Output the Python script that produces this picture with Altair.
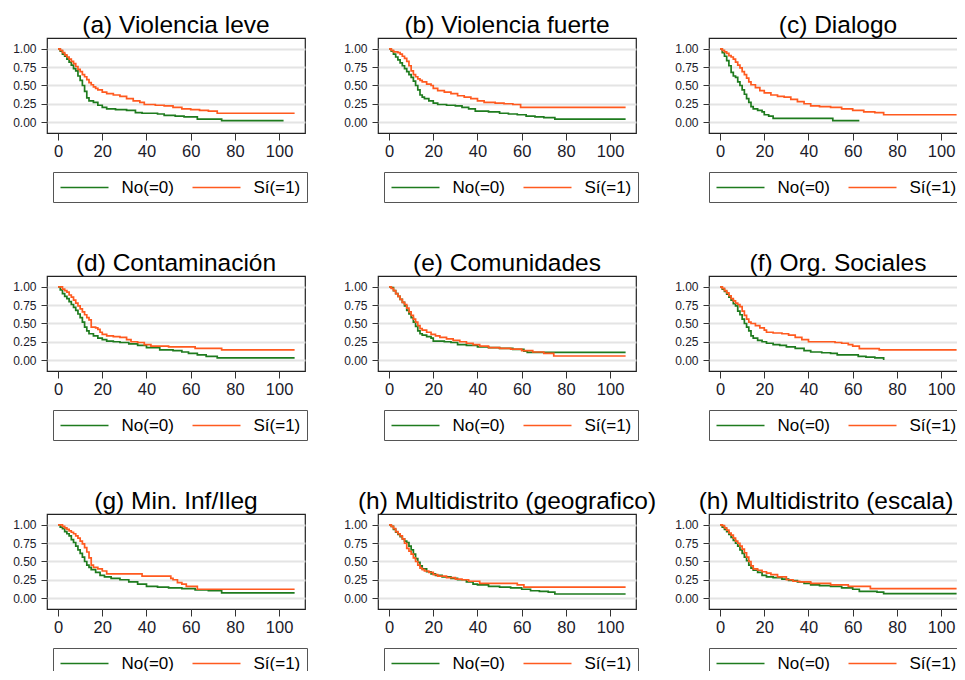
import altair as alt
import pandas as pd

GROUPS = ["No(=0)", "Sí(=1)"]
COLORS = ["#1e7b1e", "#ff5a1f"]

TITLES = [
    "(a) Violencia leve", "(b) Violencia fuerte", "(c) Dialogo",
    "(d) Contaminación", "(e) Comunidades", "(f) Org. Sociales",
    "(g) Min. Inf/Ileg", "(h) Multidistrito (geografico)", "(h) Multidistrito (escala)",
]

a_no_t = [0, 1, 2, 3, 4, 5, 6, 7, 8, 9, 10, 11, 12, 13, 14, 16, 18, 20, 22, 26, 31, 35, 38, 45, 48, 53, 57, 63, 74, 102]
a_no_s = [1, .97, .93, .90, .86, .82, .78, .73, .70, .63, .57, .50, .42, .33, .29, .27, .23, .20, .18, .17, .16, .13, .12, .11, .09, .08, .07, .04, .02, .02]
a_si_t = [0, 1, 2, 3, 4, 5, 6, 7, 8, 9, 10, 11, 12, 13, 14, 15, 16, 17, 18, 20, 22, 25, 28, 31, 34, 37, 39, 44, 48, 52, 56, 60, 64, 68, 72, 107]
a_si_s = [1, .98, .95, .92, .89, .86, .83, .80, .76, .72, .69, .65, .62, .58, .54, .51, .48, .46, .44, .41, .39, .37, .35, .32, .29, .27, .24, .23, .22, .20, .18, .17, .16, .15, .12, .12]

b_no_t = [0, 1, 2, 3, 4, 5, 6, 7, 8, 9, 10, 11, 12, 13, 14, 15, 16, 18, 20, 22, 26, 30, 33, 36, 39, 45, 50, 54, 58, 62, 66, 70, 75, 107]
b_no_s = [1, .97, .93, .89, .85, .81, .77, .73, .69, .65, .61, .56, .50, .44, .37, .34, .32, .29, .26, .24, .23, .22, .20, .18, .15, .14, .12, .11, .10, .08, .07, .06, .04, .04]
b_si_t = [0, 1, 2, 4, 5, 6, 7, 8, 9, 10, 11, 12, 13, 14, 15, 17, 19, 20, 22, 25, 28, 31, 34, 37, 40, 43, 48, 52, 56, 59.5, 107]
b_si_s = [1, .98, .96, .95, .93, .90, .87, .83, .77, .70, .65, .62, .59, .57, .55, .52, .50, .46, .43, .41, .39, .36, .34, .32, .29, .27, .26, .25, .24, .20, .20]

c_no_t = [0, 1, 2, 3, 4, 5, 6, 7, 8, 9, 10, 11, 12, 13, 14, 15, 17, 19, 20, 22, 24, 51, 63]
c_no_s = [1, .95, .90, .84, .77, .68, .63, .61, .55, .50, .44, .38, .32, .27, .21, .18, .16, .14, .10, .08, .05, .02, .02]
c_si_t = [0, 1, 2, 3, 4, 5, 6, 7, 8, 9, 10, 11, 12, 13, 14, 16, 18, 20, 23, 26, 29, 32, 35, 38, 41, 45, 50, 55, 60, 65, 70, 74, 107]
c_si_s = [1, .98, .96, .94, .91, .89, .86, .82, .78, .74, .69, .65, .60, .55, .51, .47, .43, .40, .37, .35, .34, .31, .28, .25, .22, .21, .20, .18, .16, .14, .13, .10, .10]

d_no_t = [0, 1, 2, 3, 4, 5, 6, 7, 8, 9, 10, 11, 12, 13, 14, 16, 18, 20, 22, 25, 28, 32, 36, 40, 46, 52, 56, 59, 63, 67, 72, 107]
d_no_s = [1, .96, .91, .87, .84, .80, .76, .72, .68, .63, .58, .52, .45, .40, .36, .33, .30, .28, .26, .25, .24, .22, .20, .17, .14, .13, .11, .09, .07, .05, .03, .03]
d_si_t = [0, 2, 3, 4, 5, 6, 7, 8, 9, 10, 11, 12, 13, 14, 15, 17, 18, 19, 20, 22, 25, 28, 31, 33, 36, 39, 42, 50, 56, 62, 66, 74, 107]
d_si_s = [1, .97, .95, .93, .89, .86, .82, .78, .74, .70, .66, .62, .58, .55, .45, .44, .42, .38, .35, .33, .32, .31, .28, .25, .24, .21, .19, .18, .18, .16, .16, .14, .14]

e_no_t = [0, 1, 2, 3, 4, 5, 6, 7, 8, 9, 10, 11, 12, 13, 14, 15, 17, 19, 20, 25, 28, 31, 35, 40, 45, 50, 56, 61, 62.5, 107]
e_no_s = [1, .99, .95, .91, .87, .83, .79, .74, .68, .63, .58, .52, .46, .40, .36, .34, .32, .30, .26, .25, .24, .21, .20, .18, .17, .16, .145, .12, .105, .105]
e_si_t = [0, 1, 2, 3, 4, 5, 6, 7, 8, 9, 10, 11, 12, 13, 14, 15, 17, 19, 21, 23, 26, 29, 32, 35, 38, 41, 45, 50, 55, 60, 65, 70, 74.5, 107]
e_si_s = [1, .98, .95, .91, .87, .83, .79, .76, .71, .66, .61, .56, .52, .47, .43, .41, .38, .35, .33, .31, .29, .27, .25, .23, .21, .19, .17, .16, .15, .13, .11, .09, .055, .055]

f_no_t = [0, 1, 2, 3, 4, 5, 6, 7, 8, 9, 10, 11, 12, 13, 14, 15, 17, 19, 21, 24, 27, 30, 34, 38, 41, 46, 50, 53, 62.5, 66, 70, 74]
f_no_s = [1, .97, .94, .90, .86, .82, .77, .74, .67, .62, .56, .50, .45, .40, .33, .30, .27, .25, .23, .21, .20, .18, .16, .13, .11, .10, .09, .07, .05, .04, .03, .0]
f_si_t = [0, 1, 2, 3, 4, 5, 6, 7, 8, 9, 10, 11, 12, 13, 14, 16, 18, 20, 21, 24, 28, 31, 34, 37, 40, 48, 52, 55, 58, 60, 63, 72, 107]
f_si_s = [1, .98, .95, .92, .88, .84, .81, .78, .76, .73, .67, .61, .56, .52, .50, .47, .44, .41, .38, .37, .36, .34, .31, .28, .25, .25, .24, .23, .21, .19, .155, .14, .14]

g_no_t = [0, 1, 2, 3, 4, 5, 6, 7, 8, 9, 10, 11, 12, 13, 14, 15, 17, 19, 21, 24, 28, 32, 36, 40, 45, 50, 56, 62, 68, 74, 107]
g_no_s = [1, .97, .95, .91, .88, .85, .80, .76, .71, .66, .61, .56, .50, .45, .42, .39, .35, .31, .29, .27, .25, .22, .19, .16, .15, .14, .13, .11, .10, .07, .07]
g_si_t = [0, 2, 3, 4, 5, 6, 7, 8, 9, 10, 11, 12, 13, 14, 15, 16, 18, 20, 22, 38, 51, 52, 54, 56, 58, 63, 107]
g_si_s = [1, .98, .96, .94, .92, .90, .88, .85, .82, .78, .74, .69, .63, .55, .45, .42, .40, .37, .33, .30, .27, .25, .21, .19, .16, .12, .12]

h1_no_t = [0, 1, 2, 3, 4, 5, 6, 7, 8, 9, 10, 11, 12, 13, 14, 15, 17, 19, 21, 24, 28, 31, 35, 38, 40, 45, 50, 55, 60, 64, 68, 72, 75, 107]
h1_no_s = [1, .98, .94, .90, .87, .84, .81, .78, .76, .71, .66, .60, .54, .49, .44, .40, .36, .33, .31, .29, .27, .25, .22, .19, .18, .16, .15, .14, .12, .10, .09, .08, .055, .055]
h1_si_t = [0, 1, 2, 3, 4, 5, 6, 7, 8, 9, 10, 11, 12, 13, 14, 15, 16, 18, 20, 22, 26, 30, 33, 36, 41, 58, 61, 107]
h1_si_s = [1, .98, .95, .91, .88, .85, .81, .75, .68, .64, .60, .55, .50, .45, .41, .39, .37, .35, .32, .30, .28, .26, .25, .23, .20, .18, .15, .15]

h2_no_t = [0, 1, 2, 3, 4, 5, 6, 7, 8, 9, 10, 11, 12, 13, 14, 15, 17, 19, 21, 24, 28, 31, 35, 38, 41, 45, 50, 55, 60, 63, 71, 74, 107]
h2_no_s = [1, .97, .94, .91, .87, .83, .79, .75, .71, .66, .61, .56, .51, .45, .41, .38, .35, .31, .29, .28, .26, .24, .22, .20, .18, .17, .16, .14, .12, .09, .08, .06, .06]
h2_si_t = [0, 1, 2, 3, 4, 5, 6, 7, 8, 9, 10, 11, 12, 13, 14, 15, 17, 19, 21, 23, 26, 30, 33, 36, 41, 50, 58, 68, 107]
h2_si_s = [1, .99, .96, .93, .89, .86, .82, .78, .75, .71, .67, .62, .56, .50, .44, .40, .38, .36, .34, .32, .29, .25, .23, .22, .20, .18, .16, .13, .13]

SERIES = [
    (a_no_t, a_no_s, a_si_t, a_si_s),
    (b_no_t, b_no_s, b_si_t, b_si_s),
    (c_no_t, c_no_s, c_si_t, c_si_s),
    (d_no_t, d_no_s, d_si_t, d_si_s),
    (e_no_t, e_no_s, e_si_t, e_si_s),
    (f_no_t, f_no_s, f_si_t, f_si_s),
    (g_no_t, g_no_s, g_si_t, g_si_s),
    (h1_no_t, h1_no_s, h1_si_t, h1_si_s),
    (h2_no_t, h2_no_s, h2_si_t, h2_si_s),
]

X_TICKS = [0, 20, 40, 60, 80, 100]
Y_TICKS = [0, 0.25, 0.5, 0.75, 1]
FONT = "Liberation Sans"


def make_panel(title, no_t, no_s, si_t, si_s, legend_x, title_dx):
    df = pd.concat([
        pd.DataFrame({"t": no_t, "s": no_s, "g": GROUPS[0]}),
        pd.DataFrame({"t": si_t, "s": si_s, "g": GROUPS[1]}),
    ])
    return alt.Chart(df, title=alt.TitleParams(
        title, fontSize=24.5, font=FONT, fontWeight="normal", color="#000000",
        anchor="middle", offset=0, dx=title_dx)).mark_line(
        interpolate="step-after", strokeWidth=1.7).encode(
        x=alt.X("t:Q", scale=alt.Scale(domain=[-5, 111.7], nice=False, zero=False),
                axis=alt.Axis(values=X_TICKS, title=None, grid=False, domain=False,
                              labelFontSize=16.5, tickSize=7, labelPadding=3,
                              format="d")),
        y=alt.Y("s:Q", scale=alt.Scale(domain=[-0.15, 1.15], nice=False, zero=False),
                axis=alt.Axis(values=Y_TICKS, title=None, format=".2f", grid=True,
                              domain=False, labelFontSize=12, tickSize=6,
                              labelPadding=5, gridColor="#e4e4e4", gridWidth=2)),
        color=alt.Color("g:N", scale=alt.Scale(domain=GROUPS, range=COLORS),
                        legend=alt.Legend(
                            orient="none", legendX=legend_x, legendY=134,
                            direction="horizontal", title=None,
                            symbolType="M-1,0H5", symbolSize=256,
                            symbolStrokeWidth=1.7, labelFontSize=17,
                            labelFont=FONT, labelColor="#000000",
                            labelOffset=44, columnPadding=14, padding=6.5,
                            strokeColor="#555555", fillColor="#ffffff")),
    ).properties(width=258, height=95)


panels = []
for i in range(9):
    right_col = (i % 3 == 2)
    lx = 0 if right_col else 6
    tdx = -12 if i == 8 else 0
    panels.append(make_panel(TITLES[i], *SERIES[i], lx, tdx))

chart = alt.concat(
    *panels, columns=3, spacing={"row": 143, "column": 73}, bounds="flush"
).resolve_scale(color="independent").properties(
    padding={"left": 4, "top": 3, "right": -11, "bottom": -9}
).configure_view(
    stroke="#222222", strokeWidth=1.2
).configure_axis(
    labelFont=FONT, labelColor="#1a1a2a", tickColor="#333333", tickWidth=1
)

chart.save("out.html", embed_options={"renderer": "svg", "actions": False})
